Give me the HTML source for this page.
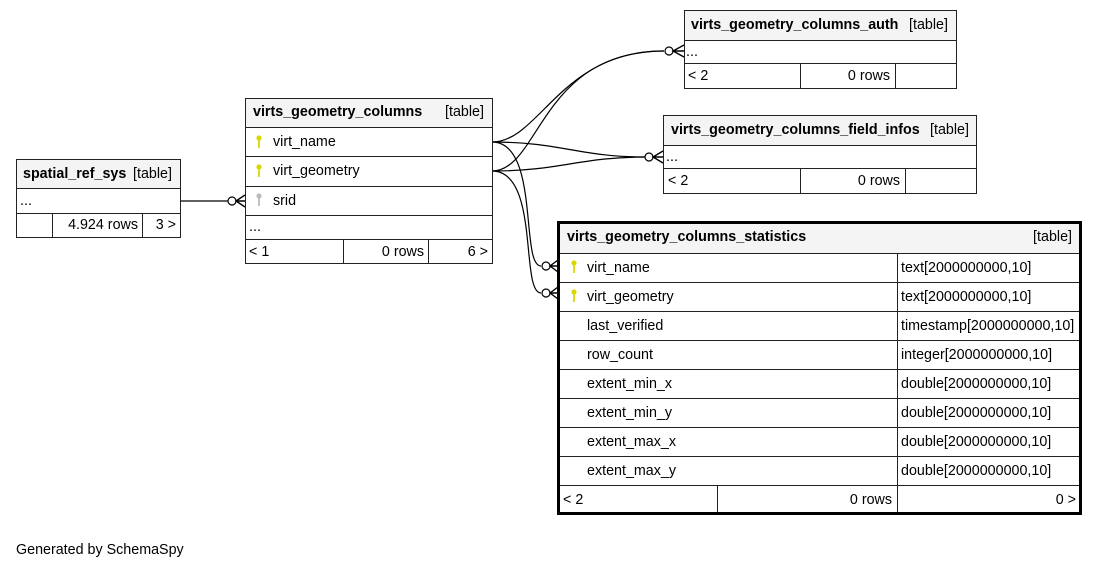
<!DOCTYPE html>
<html><head><meta charset="utf-8"><style>
html,body{margin:0;padding:0;background:#fff;width:1099px;height:569px;overflow:hidden}
svg{display:block}
text{font-family:"Liberation Sans",Arial,sans-serif;font-size:14.3px;fill:#000}
.b{font-weight:bold}
</style></head><body>
<svg width="1099" height="569" viewBox="0 0 1099 569" xmlns="http://www.w3.org/2000/svg">
<defs>
<g id="ky"><circle cx="0" cy="-3" r="2.6" fill="#d8d800"/><rect x="-0.9" y="-1" width="1.8" height="8" fill="#d8d800"/></g>
<g id="kg"><circle cx="0" cy="-3" r="2.6" fill="#bbb"/><rect x="-0.9" y="-1" width="1.8" height="8" fill="#bbb"/></g>
</defs>
<g fill="none" stroke="#000" stroke-width="1.2">
<path d="M180,201 L228,201"/>
<path d="M492,142 C540,142 560,51 664,51"/>
<path d="M492,171 C540,171 540,51 664,51"/>
<path d="M492,142 C560,142 580,157 645,157"/>
<path d="M492,171 C560,171 580,157 645,157"/>
<path d="M492,142 C540,142 520,266 541,266"/>
<path d="M492,171 C540,171 520,293 541,293"/>
</g>
<g fill="#fff" stroke="#000" stroke-width="1.2">
<circle cx="232" cy="201" r="4"/>
<circle cx="669" cy="51" r="4"/>
<circle cx="649" cy="157" r="4"/>
<circle cx="546" cy="266" r="4"/>
<circle cx="546" cy="293" r="4"/>
</g>
<g fill="none" stroke="#000" stroke-width="1.4">
<path d="M245,195 L236,201 L245,207 M236,201 L245,201"/>
<path d="M684,45 L673,51 L684,57 M673,51 L684,51"/>
<path d="M663,151 L653,157 L663,163 M653,157 L663,157"/>
<path d="M558,260 L550,266 L558,272 M550,266 L558,266"/>
<path d="M558,287 L550,293 L558,299 M550,293 L558,293"/>
</g>

<rect x="16.5" y="159.5" width="164" height="29" fill="#f4f4f4" stroke="#222"/>
<rect x="16.5" y="188.5" width="164" height="25" fill="#fff" stroke="#222"/>
<rect x="16.5" y="213.5" width="164" height="24" fill="#fff" stroke="#222"/>
<line x1="52.5" y1="213" x2="52.5" y2="237" stroke="#222"/>
<line x1="142.5" y1="213" x2="142.5" y2="237" stroke="#222"/>
<text x="23" y="178" class="b">spatial_ref_sys</text><text x="133" y="178">[table]</text>
<text x="20" y="205">...</text>
<text x="138" y="229" text-anchor="end">4.924 rows</text>
<text x="176" y="229" text-anchor="end">3 &gt;</text>

<rect x="245.5" y="98.5" width="247" height="29" fill="#f4f4f4" stroke="#222"/>
<rect x="245.5" y="127.5" width="247" height="29" fill="#fff" stroke="#222"/>
<rect x="245.5" y="156.5" width="247" height="30" fill="#fff" stroke="#222"/>
<rect x="245.5" y="186.5" width="247" height="29" fill="#fff" stroke="#222"/>
<rect x="245.5" y="215.5" width="247" height="24" fill="#fff" stroke="#222"/>
<rect x="245.5" y="239.5" width="247" height="24" fill="#fff" stroke="#222"/>
<line x1="343.5" y1="239" x2="343.5" y2="263" stroke="#222"/>
<line x1="428.5" y1="239" x2="428.5" y2="263" stroke="#222"/>
<text x="253" y="116" class="b">virts_geometry_columns</text><text x="445" y="116">[table]</text>
<use href="#ky" x="259" y="141"/><text x="273" y="146">virt_name</text>
<use href="#ky" x="259" y="170"/><text x="273" y="175">virt_geometry</text>
<use href="#kg" x="259" y="199"/><text x="273" y="205">srid</text>
<text x="249" y="231">...</text>
<text x="249" y="256">&lt; 1</text>
<text x="424" y="256" text-anchor="end">0 rows</text>
<text x="488" y="256" text-anchor="end">6 &gt;</text>

<rect x="684.5" y="10.5" width="272" height="30" fill="#f4f4f4" stroke="#222"/>
<rect x="684.5" y="40.5" width="272" height="23" fill="#fff" stroke="#222"/>
<rect x="684.5" y="63.5" width="272" height="25" fill="#fff" stroke="#222"/>
<line x1="800.5" y1="63" x2="800.5" y2="88" stroke="#222"/>
<line x1="895.5" y1="63" x2="895.5" y2="88" stroke="#222"/>
<text x="691" y="29" class="b">virts_geometry_columns_auth</text><text x="909" y="29">[table]</text>
<text x="686" y="56">...</text>
<text x="688" y="80">&lt; 2</text>
<text x="890" y="80" text-anchor="end">0 rows</text>

<rect x="663.5" y="115.5" width="313" height="30" fill="#f4f4f4" stroke="#222"/>
<rect x="663.5" y="145.5" width="313" height="23" fill="#fff" stroke="#222"/>
<rect x="663.5" y="168.5" width="313" height="25" fill="#fff" stroke="#222"/>
<line x1="800.5" y1="168" x2="800.5" y2="193" stroke="#222"/>
<line x1="905.5" y1="168" x2="905.5" y2="193" stroke="#222"/>
<text x="671" y="134" class="b">virts_geometry_columns_field_infos</text><text x="930" y="134">[table]</text>
<text x="666" y="161">...</text>
<text x="668" y="185">&lt; 2</text>
<text x="900" y="185" text-anchor="end">0 rows</text>

<rect x="558" y="222" width="523" height="31" fill="#f4f4f4"/>
<rect x="558" y="253" width="523" height="261" fill="#fff"/>
<g stroke="#222" stroke-width="1">
<line x1="558" y1="253.5" x2="1081" y2="253.5"/>
<line x1="558" y1="282.5" x2="1081" y2="282.5"/>
<line x1="558" y1="311.5" x2="1081" y2="311.5"/>
<line x1="558" y1="340.5" x2="1081" y2="340.5"/>
<line x1="558" y1="369.5" x2="1081" y2="369.5"/>
<line x1="558" y1="398.5" x2="1081" y2="398.5"/>
<line x1="558" y1="427.5" x2="1081" y2="427.5"/>
<line x1="558" y1="456.5" x2="1081" y2="456.5"/>
<line x1="558" y1="485.5" x2="1081" y2="485.5"/>
<line x1="897.5" y1="253" x2="897.5" y2="514"/>
<line x1="717.5" y1="485" x2="717.5" y2="514"/>
</g>
<rect x="558.5" y="222.5" width="522" height="291" fill="none" stroke="#000" stroke-width="3"/>
<text x="567" y="241" class="b">virts_geometry_columns_statistics</text><text x="1072" y="241" text-anchor="end">[table]</text>
<use href="#ky" x="574" y="266"/><text x="587" y="272">virt_name</text>
<use href="#ky" x="574" y="295"/><text x="587" y="301">virt_geometry</text>
<text x="587" y="330">last_verified</text>
<text x="587" y="359">row_count</text>
<text x="587" y="388">extent_min_x</text>
<text x="587" y="417">extent_min_y</text>
<text x="587" y="446">extent_max_x</text>
<text x="587" y="475">extent_max_y</text>
<text x="901" y="272">text[2000000000,10]</text>
<text x="901" y="301">text[2000000000,10]</text>
<text x="901" y="330">timestamp[2000000000,10]</text>
<text x="901" y="359">integer[2000000000,10]</text>
<text x="901" y="388">double[2000000000,10]</text>
<text x="901" y="417">double[2000000000,10]</text>
<text x="901" y="446">double[2000000000,10]</text>
<text x="901" y="475">double[2000000000,10]</text>
<text x="563" y="504">&lt; 2</text>
<text x="892" y="504" text-anchor="end">0 rows</text>
<text x="1076" y="504" text-anchor="end">0 &gt;</text>

<text x="16" y="554">Generated by SchemaSpy</text>
</svg>
</body></html>
